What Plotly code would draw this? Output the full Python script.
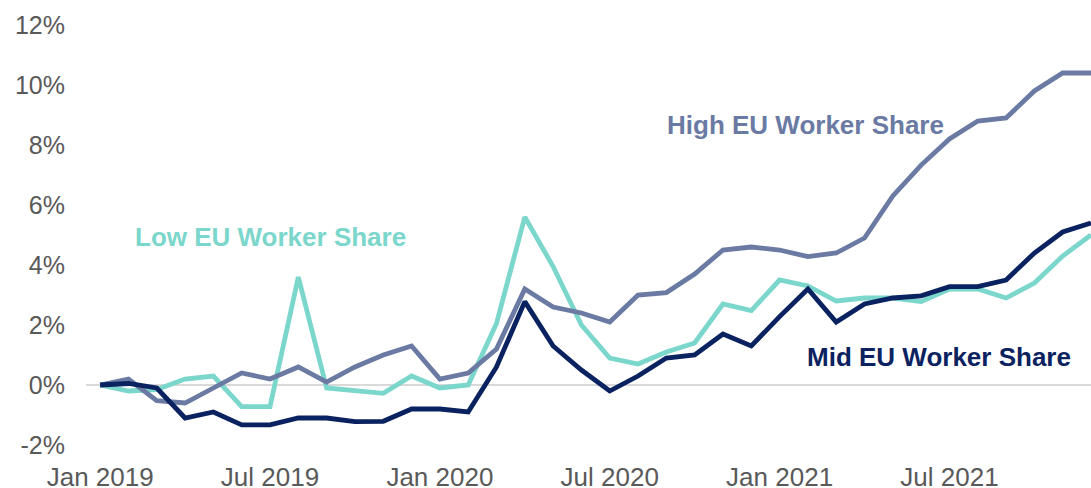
import plotly.graph_objects as go
import pandas as pd

months = [d.strftime("%b %Y") for d in pd.date_range("2019-01-01", "2021-12-01", freq="MS")]

low_share = [0.0, -0.2, -0.15, 0.2, 0.3, -0.72, -0.72, 3.6, -0.1, -0.2, -0.28,
             0.3, -0.1, 0.0, 2.05, 5.6, 3.95, 2.0, 0.9, 0.7, 1.1, 1.4, 2.7, 2.48,
             3.5, 3.3, 2.8, 2.9, 2.9, 2.78, 3.2, 3.2, 2.9, 3.4, 4.3, 5.0]
mid_share = [0.0, 0.05, -0.1, -1.1, -0.9, -1.33, -1.33, -1.1, -1.1, -1.22, -1.21,
             -0.8, -0.8, -0.9, 0.6, 2.78, 1.3, 0.5, -0.2, 0.3, 0.9, 1.0, 1.7, 1.3,
             2.28, 3.2, 2.1, 2.7, 2.9, 2.97, 3.28, 3.28, 3.5, 4.4, 5.1, 5.4]
high_share = [0.0, 0.2, -0.52, -0.6, -0.1, 0.4, 0.2, 0.6, 0.1, 0.6, 1.0,
              1.3, 0.2, 0.4, 1.2, 3.2, 2.6, 2.4, 2.1, 3.0, 3.08, 3.7, 4.5, 4.6,
              4.5, 4.28, 4.4, 4.9, 6.3, 7.33, 8.2, 8.8, 8.9, 9.8, 10.4, 10.4]

tick_labels = ["Jan 2019", "Jul 2019", "Jan 2020", "Jul 2020", "Jan 2021", "Jul 2021"]
y_ticks = [-2, 0, 2, 4, 6, 8, 10, 12]
y_tick_text = ["-2%", "0%", "2%", "4%", "6%", "8%", "10%", "12%"]

C_LOW = "#7bd6cc"
C_MID = "#0b2260"
C_HIGH = "#6a7aa3"

fig = go.Figure()
for name, vals, col in [("Low EU Worker Share", low_share, C_LOW),
                        ("High EU Worker Share", high_share, C_HIGH),
                        ("Mid EU Worker Share", mid_share, C_MID)]:
    fig.add_trace(go.Scatter(x=months, y=vals, mode="lines", name=name,
                             line=dict(color=col, width=4.8), showlegend=False))

ann_font = dict(family="Liberation Sans, Arial, sans-serif", size=26)
fig.add_annotation(x=6.0, y=4.93, text="<b>Low EU Worker Share</b>", showarrow=False,
                   font=dict(**ann_font, color=C_LOW))
fig.add_annotation(x=24.9, y=8.67, text="<b>High EU Worker Share</b>", showarrow=False,
                   font=dict(**ann_font, color=C_HIGH))
fig.add_annotation(x=29.64, y=0.93, text="<b>Mid EU Worker Share</b>", showarrow=False,
                   font=dict(**ann_font, color=C_MID))

fig.update_layout(
    width=1091, height=488,
    margin=dict(l=86, r=0, t=25, b=43),
    paper_bgcolor="white", plot_bgcolor="white",
    font=dict(family="Liberation Sans, Arial, sans-serif", color="#595959"),
    xaxis=dict(type="category", range=[-0.5, 35], tickmode="array",
               tickvals=tick_labels, ticktext=tick_labels, showgrid=False,
               zeroline=False, showline=False, ticks="", automargin=False,
               tickfont=dict(size=26, color="#595959"), ticklabelstandoff=14),
    yaxis=dict(range=[-2, 12], tickmode="array", tickvals=y_ticks, ticktext=y_tick_text,
               showgrid=False, zeroline=True, zerolinecolor="#d9d9d9", zerolinewidth=2,
               showline=False, ticks="", automargin=False,
               tickfont=dict(size=25, color="#595959"), ticklabelstandoff=20),
)

fig.write_html("out.html", config={"displayModeBar": False},
               post_script="document.body.style.margin='0';document.body.style.overflow='hidden';")
